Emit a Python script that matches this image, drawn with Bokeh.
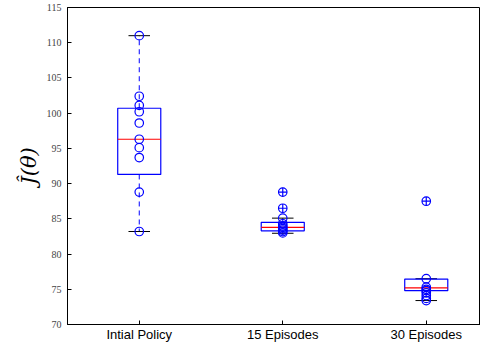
from bokeh.plotting import figure
from bokeh.models import FixedTicker, Range1d, ColumnDataSource
from bokeh.embed import file_html
from bokeh.resources import INLINE

categories = ["Intial Policy", "15 Episodes", "30 Episodes"]
q1 = [91.3, 83.3, 74.8]
median = [96.3, 83.8, 75.2]
q3 = [100.7, 84.5, 76.45]
whisker_lo = [83.2, 82.95, 73.4]
whisker_hi = [111.0, 85.1, 76.5]

initial_points = [111.0, 102.4, 101.1, 100.2, 98.6, 96.3, 95.1, 93.7, 88.8, 83.2]
ep15_points = [88.8, 86.5, 85.1, 84.3, 84.0, 83.8, 83.6, 83.4, 83.2, 83.0]
ep30_points = [87.5, 76.5, 75.3, 75.0, 74.8, 74.5, 74.1, 73.7, 73.4]
ep15_outliers = [88.8, 86.5]
ep30_outliers = [87.5]

y_ticks = [70, 75, 80, 85, 90, 95, 100, 105, 110, 115]

pos = [i + 1 for i in range(len(categories))]
box_half = 0.15
cap_half = 0.075

p = figure(width=480, height=344, output_backend="svg", toolbar_location=None,
           x_range=Range1d(0.5, 3.378), y_range=Range1d(70, 115),
           min_border_left=67, min_border_right=0, min_border_top=7, min_border_bottom=0)
p.background_fill_color = "white"
p.border_fill_color = "white"
p.outline_line_color = "black"
p.outline_line_width = 1
p.grid.visible = False

box = ColumnDataSource(dict(x=pos, q1=q1, med=median, q3=q3, lo=whisker_lo, hi=whisker_hi,
                            left=[x - box_half for x in pos], right=[x + box_half for x in pos],
                            cl=[x - cap_half for x in pos], cr=[x + cap_half for x in pos]))

# whiskers (dashed blue)
p.segment(x0="x", y0="q3", x1="x", y1="hi", source=box, line_color="#0000ff",
          line_dash="5 4", line_width=1)
p.segment(x0="x", y0="q1", x1="x", y1="lo", source=box, line_color="#0000ff",
          line_dash="5 4", line_width=1)
# caps (black)
p.segment(x0="cl", y0="hi", x1="cr", y1="hi", source=box, line_color="black", line_width=1)
p.segment(x0="cl", y0="lo", x1="cr", y1="lo", source=box, line_color="black", line_width=1)
# boxes
p.quad(left="left", right="right", bottom="q1", top="q3", source=box,
       fill_color=None, line_color="#0000ff", line_width=1.2)
# medians
p.segment(x0="left", y0="med", x1="right", y1="med", source=box, line_color="#ff0000",
          line_width=1.2)

# data points
all_pts = [initial_points, ep15_points, ep30_points]
xs, ys = [], []
for x, pts in zip(pos, all_pts):
    xs += [x] * len(pts)
    ys += pts
p.scatter(xs, ys, marker="circle", size=8.5, fill_color=None, line_color="#0000ff", line_width=1.2)

# outliers
ox = [2] * len(ep15_outliers) + [3] * len(ep30_outliers)
oy = ep15_outliers + ep30_outliers
p.scatter(ox, oy, marker="cross", size=8.5, line_color="#0000ff", line_width=1.2)

# axes
xa = p.xaxis[0]
xa.ticker = FixedTicker(ticks=pos)
xa.major_label_overrides = {x: c for x, c in zip(pos, categories)}
xa.major_label_text_font = "Liberation Sans"
xa.major_label_text_font_size = "13px"
xa.major_label_text_color = "black"
xa.major_label_standoff = 2
xa.major_tick_in = 4
xa.major_tick_out = 0
xa.minor_tick_line_color = None
xa.axis_line_color = "black"

ya = p.yaxis[0]
ya.ticker = FixedTicker(ticks=y_ticks)
ya.major_label_text_font = "Liberation Serif"
ya.major_label_text_font_size = "10px"
ya.major_label_text_color = "#444444"
ya.major_label_standoff = 6
ya.major_tick_in = 4
ya.major_tick_out = 0
ya.minor_tick_line_color = None
ya.axis_line_color = "black"
ya.axis_label = "Ĵ(θ)"
ya.axis_label_text_font = "DejaVu Serif"
ya.axis_label_text_font_style = "italic"
ya.axis_label_text_font_size = "21px"
ya.axis_label_text_color = "black"
ya.axis_label_standoff = 3

open("out.html", "w").write(file_html(p, INLINE))
